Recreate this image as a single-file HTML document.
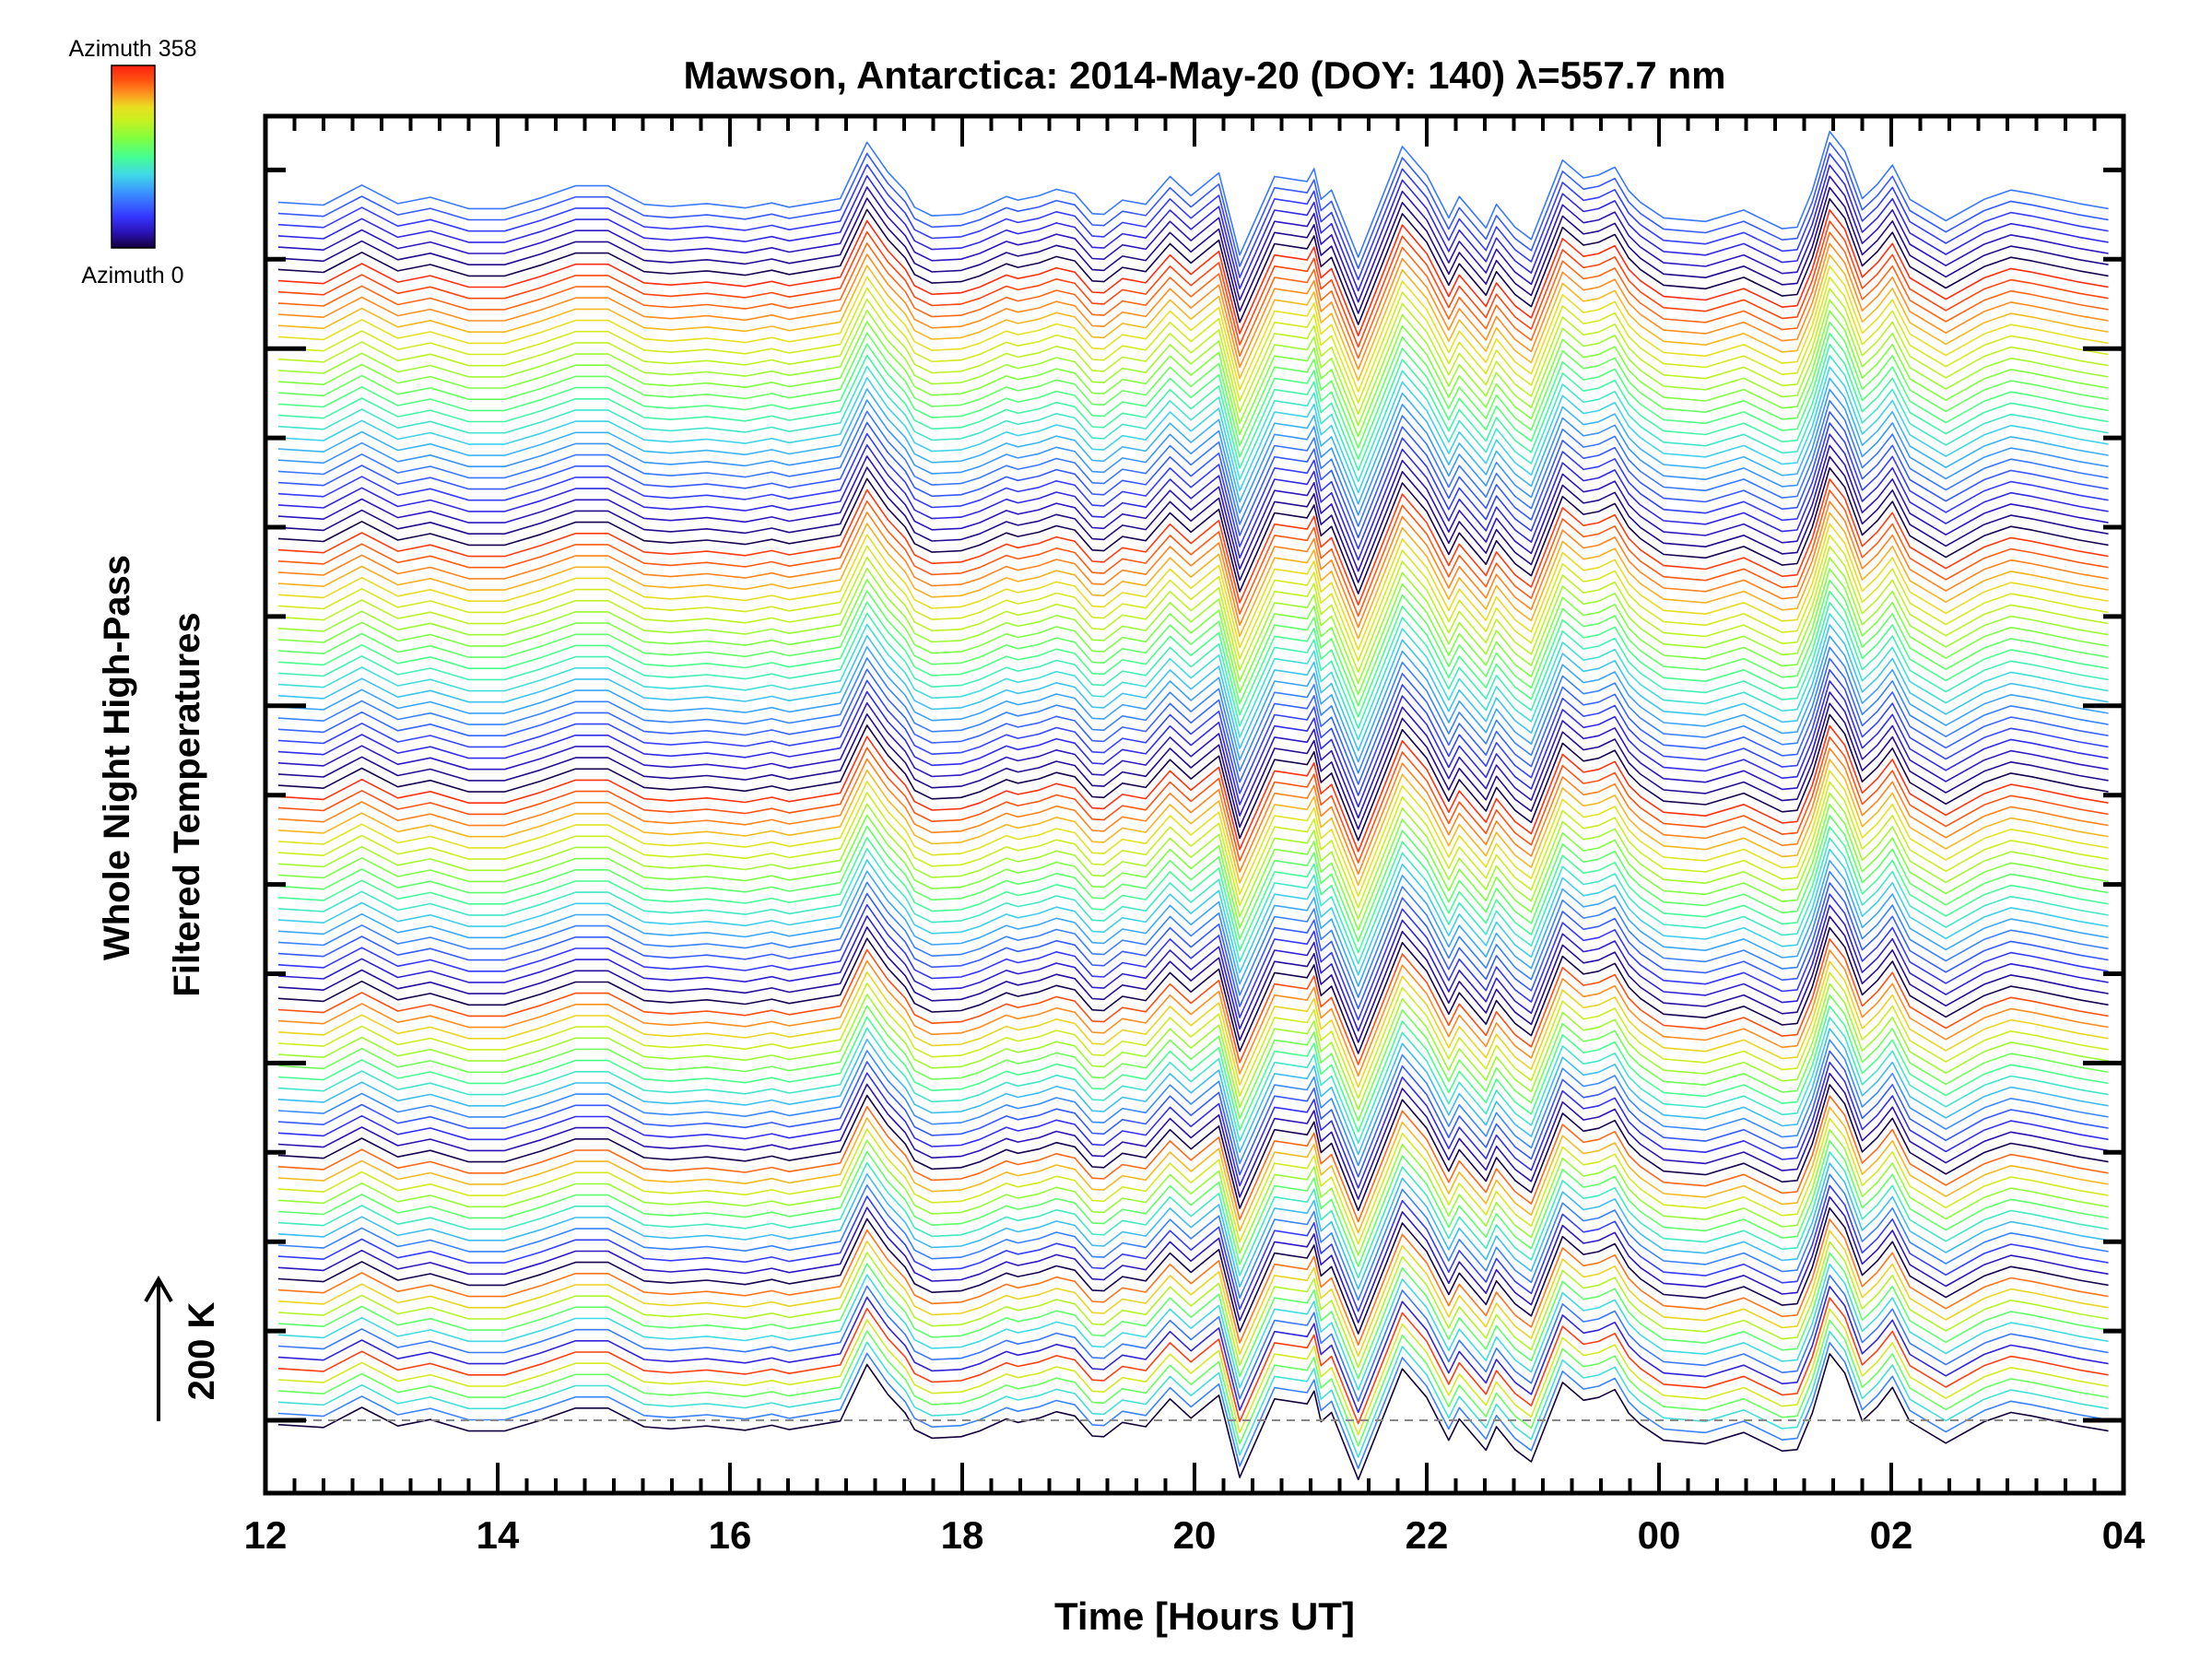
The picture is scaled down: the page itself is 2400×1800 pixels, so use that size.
<!DOCTYPE html>
<html>
<head>
<meta charset="utf-8">
<style>
  html,body{margin:0;padding:0;background:#fff;}
  svg{display:block;}
  .lbl{font-family:"Liberation Sans",sans-serif;font-weight:bold;fill:#000;}
  .thin{font-family:"Liberation Sans",sans-serif;fill:#000;}
</style>
</head>
<body>
<svg id="chart" xmlns="http://www.w3.org/2000/svg" width="2400" height="1800" viewBox="0 0 2400 1800">
  <defs>
    <linearGradient id="jet" x1="0" y1="1" x2="0" y2="0">
      <stop offset="0" stop-color="#12003a"/>
      <stop offset="0.08" stop-color="#2a10b0"/>
      <stop offset="0.17" stop-color="#3535ff"/>
      <stop offset="0.3" stop-color="#3a90ff"/>
      <stop offset="0.4" stop-color="#40d8e8"/>
      <stop offset="0.5" stop-color="#45ff90"/>
      <stop offset="0.6" stop-color="#80ff40"/>
      <stop offset="0.7" stop-color="#c8f020"/>
      <stop offset="0.77" stop-color="#e8e020"/>
      <stop offset="0.85" stop-color="#ff9020"/>
      <stop offset="0.92" stop-color="#ff5010"/>
      <stop offset="1" stop-color="#ff2010"/>
    </linearGradient>
  </defs>

  <text class="thin" x="144" y="61" font-size="25" text-anchor="middle">Azimuth  358</text>
  <rect x="121" y="71" width="47" height="198" fill="url(#jet)" stroke="#000" stroke-width="1.5"/>
  <text class="thin" x="144" y="307" font-size="25" text-anchor="middle">Azimuth  0</text>

  <text class="lbl" x="1307" y="96" font-size="42" text-anchor="middle">Mawson, Antarctica: 2014-May-20 (DOY: 140) λ=557.7 nm</text>

  <g id="traces"></g>
  <line x1="292" y1="1541" x2="2290" y2="1541" stroke="#888" stroke-width="2" stroke-dasharray="9,7"/>

  <g id="axes"></g>

  <text class="lbl" transform="translate(140,822) rotate(-90)" font-size="40" text-anchor="middle">Whole Night High-Pass</text>
  <text class="lbl" transform="translate(216,873) rotate(-90)" font-size="40" text-anchor="middle">Filtered Temperatures</text>
  <text class="lbl" x="1307" y="1768" font-size="42" text-anchor="middle">Time [Hours UT]</text>

  <g>
    <line x1="172" y1="1542" x2="172" y2="1392" stroke="#000" stroke-width="4"/>
    <polyline points="158,1412 172,1388 186,1412" fill="none" stroke="#000" stroke-width="4"/>
  </g>
  <text class="lbl" transform="translate(232,1466) rotate(-90)" font-size="40" text-anchor="middle">200 K</text>
</svg>

<script>
// ---- data ----
const hours = [12.11,12.50,12.83,13.14,13.42,13.75,14.06,14.37,14.67,14.95,15.26,15.49,15.80,16.13,16.36,16.51,16.95,17.18,17.36,17.51,17.59,17.74,17.99,18.15,18.38,18.48,18.66,18.81,18.97,19.12,19.22,19.38,19.58,19.79,19.97,20.21,20.39,20.69,20.97,21.03,21.09,21.18,21.41,21.79,22.0,22.19,22.28,22.51,22.60,22.76,22.90,23.17,23.35,23.48,23.62,23.74,23.84,24.04,24.40,24.73,25.06,25.19,25.32,25.47,25.60,25.75,25.88,26.01,26.16,26.47,26.80,27.03,27.21,27.62,27.87];
const tempK = [-6,-10,18,-8,1,-15,-15,0,17,17,-9,-12,-8,-14,-7,-13,-1,78,36,10,-13,-25,-23,-15,2,-3,3,12,6,-22,-23,-3,-9,30,3,35,-80,30,23,41,-2,11,-83,72,32,-28,2,-42,-9,-41,-58,53,28,32,43,10,-6,-28,-33,-17,-43,-41,10,93,66,-1,19,46,-2,-32,-2,11,6,-8,-15];
const ring0 = [0];
const ring1 = [100,150,200,260,340];
const ring2 = [45,95,145,195,240,280,315];
const ring3 = [5,35,65,100,130,160,195,225,260,290,320];
const ring4 = [5,30,55,80,105,130,155,180,205,230,255,280,305,330];
const ring5 = [5,24,43,62,81,100,119,138,157,176,195,214,233,252,271,290,309,328,347];
const ring6 = [5,21,37,53,69,85,101,117,133,149,165,181,197,213,229,245,261,277,293,309,325,341];
const ring7 = [5,20,35,50,65,80,95,110,125,140,155,170,185,200,215,230,245,260,275,290,305,320,335,350];
const ring8 = [5,20,35,50,65,80,95];
const offsetStepK = 15.7;
const xTickHours = [12,14,16,18,20,22,24,26,28];
const xTickLabels = ["12","14","16","18","20","22","00","02","04"];

// ---- axes functions ----
const X0 = 288, X1 = 2304, Y0 = 126, Y1 = 1620, BASE = 1541, PXK = 0.775;
const xs = h => X0 + (h - 12) * (X1 - X0) / 16;
const ys = k => BASE - k * PXK;

const stops = [[0,[18,0,58]],[0.08,[42,16,176]],[0.17,[53,53,255]],[0.3,[58,144,255]],[0.4,[64,216,232]],[0.5,[69,255,144]],[0.6,[128,255,64]],[0.7,[200,240,32]],[0.77,[232,224,32]],[0.85,[255,144,32]],[0.92,[255,80,16]],[1,[255,32,16]]];
function colorFor(az){
  const t = Math.max(0, Math.min(1, az / 358));
  for (let i = 1; i < stops.length; i++){
    if (t <= stops[i][0]){
      const a = stops[i-1], b = stops[i], f = (t - a[0]) / (b[0] - a[0]);
      const c = a[1].map((v, j) => Math.round(v + (b[1][j] - v) * f));
      return `rgb(${c[0]},${c[1]},${c[2]})`;
    }
  }
  return "rgb(255,32,16)";
}

const NS = "http://www.w3.org/2000/svg";
const azimuths = [].concat(ring0, ring1, ring2, ring3, ring4, ring5, ring6, ring7, ring8);
const traces = document.getElementById("traces");
azimuths.forEach((az, i) => {
  const off = i * offsetStepK;
  const d = hours.map((h, j) => (j ? "L" : "M") + xs(h).toFixed(1) + "," + ys(tempK[j] + off).toFixed(1)).join(" ");
  const p = document.createElementNS(NS, "path");
  p.setAttribute("d", d);
  p.setAttribute("fill", "none");
  p.setAttribute("stroke", colorFor(az));
  p.setAttribute("stroke-width", "1.6");
  p.setAttribute("stroke-linejoin", "round");
  
  
  traces.appendChild(p);
});

// ---- axes ----
const axes = document.getElementById("axes");
function line(x1, y1, x2, y2, w){
  const l = document.createElementNS(NS, "line");
  l.setAttribute("x1", x1); l.setAttribute("y1", y1);
  l.setAttribute("x2", x2); l.setAttribute("y2", y2);
  l.setAttribute("stroke", "#000"); l.setAttribute("stroke-width", w);
  axes.appendChild(l);
  return l;
}
const frame = document.createElementNS(NS, "rect");
frame.setAttribute("x", X0); frame.setAttribute("y", Y0);
frame.setAttribute("width", X1 - X0); frame.setAttribute("height", Y1 - Y0);
frame.setAttribute("fill", "none"); frame.setAttribute("stroke", "#000"); frame.setAttribute("stroke-width", "5");


axes.appendChild(frame);

for (let q = 0; q <= 64; q++){
  const h = 12 + q * 0.25, x = xs(h), major = (q % 8 === 0);
  if (q === 0 || q === 64) continue;
  const len = major ? 33 : 16;
  const t1 = line(x, Y1, x, Y1 - len, 4);
  
  
  const t2 = line(x, Y0, x, Y0 + len, 4);
  
  
}
xTickHours.forEach((h, i) => {
  const t = document.createElementNS(NS, "text");
  t.setAttribute("x", xs(h)); t.setAttribute("y", 1680);
  t.setAttribute("class", "lbl"); t.setAttribute("font-size", "42");
  t.setAttribute("text-anchor", "middle");
  t.textContent = xTickLabels[i];
  
  
  axes.appendChild(t);
});
for (let i = 0; i < 15; i++){
  const y = BASE - i * 96.9, major = (i % 4 === 0);
  const len = major ? 44 : 22;
  const a = line(X0, y, X0 + len, y, 5);
  
  
  const b = line(X1, y, X1 - len, y, 5);
  
  
}
</script>
</body>
</html>
